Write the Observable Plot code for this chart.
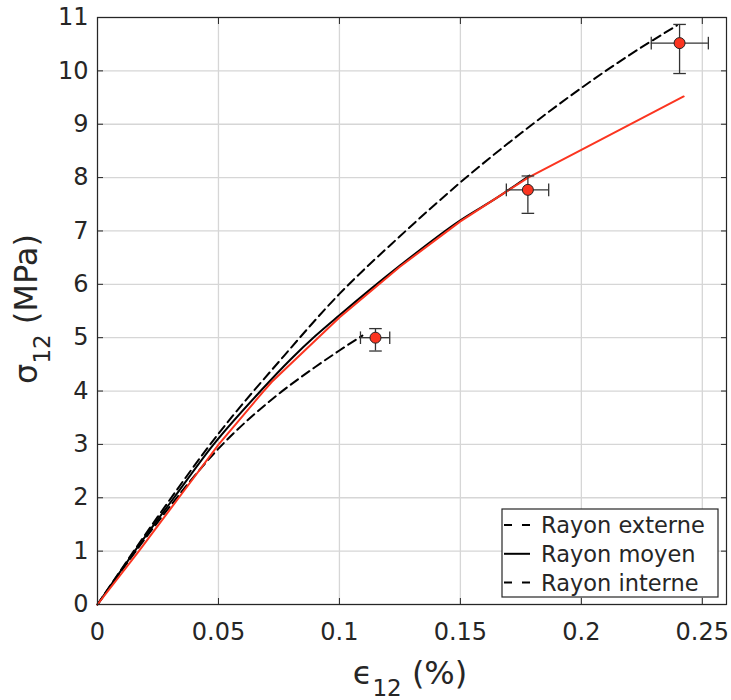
<!DOCTYPE html>
<html><head><meta charset="utf-8">
<script src="https://cdn.jsdelivr.net/npm/d3@7"></script>
<script src="https://cdn.jsdelivr.net/npm/@observablehq/plot@0.6"></script>
<style>body{margin:0;background:#fff}</style>
</head><body><div id="chart"></div>
<script>
// ---- data ----
const xTicks = [0, 0.05, 0.1, 0.15, 0.2, 0.25];
const yTicks = [0, 1, 2, 3, 4, 5, 6, 7, 8, 9, 10, 11];

const externeX = [0, 0.025, 0.05, 0.075, 0.1, 0.125, 0.15, 0.175, 0.2, 0.22, 0.2395];
const externeY = [0, 1.65, 3.2, 4.55, 5.82, 6.9, 7.91, 8.83, 9.68, 10.3, 10.85];

const moyenX = [0, 0.0154, 0.0316, 0.048, 0.0674, 0.08, 0.09, 0.1, 0.125, 0.15, 0.165, 0.1786];
const moyenY = [0, 1, 2, 3, 4, 4.6, 5.03, 5.42, 6.35, 7.2, 7.62, 8.04];

const interneX = [0, 0.025, 0.05, 0.075, 0.09, 0.1, 0.1095];
const interneY = [0, 1.55, 2.92, 3.95, 4.45, 4.76, 5.04];

const rougeX = [0, 0.0171, 0.0336, 0.0501, 0.0687, 0.072, 0.1, 0.125, 0.15, 0.165, 0.178, 0.2, 0.2423];
const rougeY = [0, 1, 2, 3, 4, 4.17, 5.38, 6.33, 7.18, 7.62, 8.0, 8.52, 9.52];

const ptX = [0.1149, 0.1779, 0.2406];
const ptY = [5.0, 7.77, 10.52];
const ptXlo = [0.1087, 0.169, 0.2289];
const ptXhi = [0.1208, 0.1865, 0.2525];
const ptYlo = [4.75, 7.33, 9.95];
const ptYhi = [5.17, 8.03, 10.87];

const legendLabels = ["Rayon externe", "Rayon moyen", "Rayon interne"];
const legendDash = ["8,10", null, "8,10"];

// ---- build tables ----
const toRows = (xs, ys) => xs.map((x, i) => ({x, y: ys[i]}));
const externe = toRows(externeX, externeY);
const moyen = toRows(moyenX, moyenY);
const interne = toRows(interneX, interneY);
const rouge = toRows(rougeX, rougeY);
const points = ptX.map((x, i) => ({x, y: ptY[i], xlo: ptXlo[i], xhi: ptXhi[i], ylo: ptYlo[i], yhi: ptYhi[i]}));

const hcap = {draw(ctx, size) { const r = Math.sqrt(size / Math.PI); ctx.moveTo(-r, 0); ctx.lineTo(r, 0); }};
const vcap = {draw(ctx, size) { const r = Math.sqrt(size / Math.PI); ctx.moveTo(0, -r); ctx.lineTo(0, r); }};

const ink = "#262626";
const red = "#fb3520";
const errc = "#333333";

const chart = Plot.plot({
  width: 731, height: 700,
  marginLeft: 97, marginRight: 5, marginTop: 17, marginBottom: 96,
  style: {fontFamily: "DejaVu Sans", fontSize: "24px", color: ink, background: "#fff"},
  x: {domain: [0, 0.26], label: null},
  y: {domain: [0, 11], label: null},
  marks: [
    Plot.gridX(xTicks, {stroke: "#d6d6d6", strokeOpacity: 1, strokeWidth: 1.3}),
    Plot.gridY(yTicks, {stroke: "#d6d6d6", strokeOpacity: 1, strokeWidth: 1.3}),
    Plot.line(externe, {x: "x", y: "y", stroke: "black", strokeWidth: 2, strokeDasharray: "9,5", curve: "monotone-x"}),
    Plot.line(moyen, {x: "x", y: "y", stroke: "black", strokeWidth: 2, curve: "monotone-x"}),
    Plot.line(interne, {x: "x", y: "y", stroke: "black", strokeWidth: 2, strokeDasharray: "9,5", curve: "monotone-x"}),
    Plot.line(rouge, {x: "x", y: "y", stroke: red, strokeWidth: 2}),
    Plot.ruleX(points, {x: "x", y1: "ylo", y2: "yhi", stroke: errc, strokeWidth: 1.3}),
    Plot.ruleY(points, {y: "y", x1: "xlo", x2: "xhi", stroke: errc, strokeWidth: 1.3}),
    Plot.dot(points, {x: "x", y: "ylo", symbol: hcap, r: 6.3, fill: "none", stroke: errc, strokeWidth: 1.3}),
    Plot.dot(points, {x: "x", y: "yhi", symbol: hcap, r: 6.3, fill: "none", stroke: errc, strokeWidth: 1.3}),
    Plot.dot(points, {x: "xlo", y: "y", symbol: vcap, r: 6.3, fill: "none", stroke: errc, strokeWidth: 1.3}),
    Plot.dot(points, {x: "xhi", y: "y", symbol: vcap, r: 6.3, fill: "none", stroke: errc, strokeWidth: 1.3}),
    Plot.dot(points, {x: "x", y: "y", r: 5.5, fill: red, stroke: "#222", strokeWidth: 1}),
    Plot.frame({stroke: ink, strokeWidth: 1.2}),
    Plot.axisX(xTicks, {anchor: "bottom", tickSize: -6, tickPadding: 24, tickFormat: d => String(d), stroke: ink, fill: ink}),
    Plot.axisX(xTicks, {anchor: "top", tickSize: -6, tickFormat: () => "", stroke: ink}),
    Plot.axisY(yTicks, {anchor: "left", tickSize: -6, tickPadding: 15, tickFormat: d => String(d), stroke: ink, fill: ink}),
    Plot.axisY(yTicks, {anchor: "right", tickSize: -6, tickFormat: () => "", stroke: ink})
  ]
});
document.getElementById("chart").append(chart);

// ---- axis labels with subscripts ----
const svg = d3.select(chart);
const xl = svg.append("text").attr("x", 410).attr("y", 684).attr("text-anchor", "middle")
  .attr("font-family", "DejaVu Sans").attr("font-size", 32).attr("fill", ink);
xl.append("tspan").text("ϵ");
xl.append("tspan").attr("dy", 12).attr("font-size", 23).text("12");
xl.append("tspan").attr("dy", -12).text(" (%)");

const yl = svg.append("text").attr("transform", "translate(37,309) rotate(-90)").attr("text-anchor", "middle")
  .attr("font-family", "DejaVu Sans").attr("font-size", 32).attr("fill", ink);
yl.append("tspan").text("σ");
yl.append("tspan").attr("dy", 13).attr("font-size", 23).text("12");
yl.append("tspan").attr("dy", -13).text(" (MPa)");

// ---- legend ----
const lg = svg.append("g").attr("font-family", "DejaVu Sans").attr("font-size", 22.5)
  .attr("fill", ink).attr("text-anchor", "start");
lg.append("rect").attr("x", 502).attr("y", 509).attr("width", 216).attr("height", 88)
  .attr("fill", "#fff").attr("stroke", ink).attr("stroke-width", 1.2);
legendLabels.forEach((lab, i) => {
  const yy = 525 + i * 28.8;
  lg.append("line").attr("x1", 504).attr("x2", 530).attr("y1", yy).attr("y2", yy)
    .attr("stroke", "black").attr("stroke-width", 2).attr("stroke-dasharray", legendDash[i]);
  lg.append("text").attr("x", 541).attr("y", yy + 8).attr("text-anchor", "start").text(lab);
});
</script>
</body></html>
